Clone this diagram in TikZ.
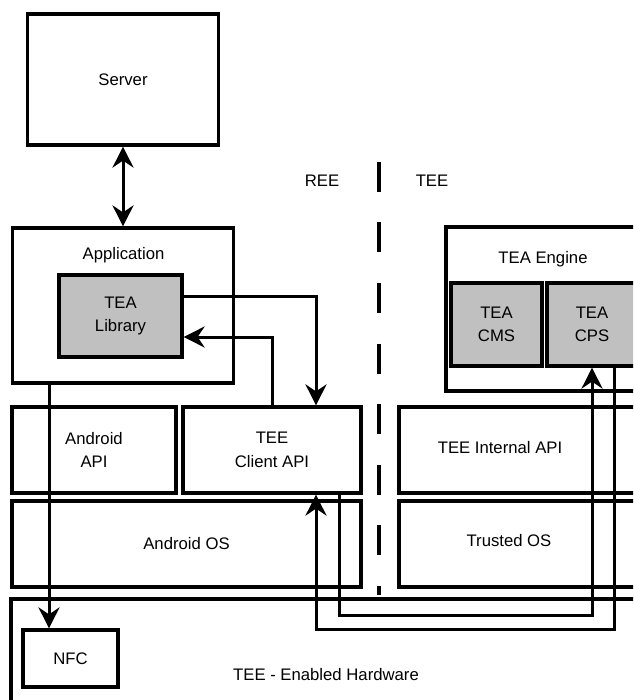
\documentclass[tikz,border=0pt]{standalone}
\usepackage{fontspec}
\setmainfont{Liberation Sans}
\usetikzlibrary{arrows.meta}
\definecolor{libgray}{RGB}{192,192,192}

\begin{document}
\begin{tikzpicture}[x = 1pt, y = -1pt,
        box/.style = {draw, black, line width = 3.2pt, inner sep = 0pt, align = center, font = \fontsize{16.7}{23.5}\selectfont},
        shaded/.style = {box, fill = libgray},
        lbl/.style = {inner sep = 0pt, font = \fontsize{16.7}{23.5}\selectfont},
        link/.style = {line width = 3pt, >={Stealth[length = 21pt, width = 21pt, inset = 7pt]}}]

    \clip (0, 0) rectangle (633, 700);

    \node[box, minimum width = 191pt, minimum height = 131pt] (server) at (123, 79.5) {Server};

    \node[box, minimum width = 221pt, minimum height = 155pt] (app) at (123, 305.5) {};
    \node[lbl] (apptitle) at (123.5, 255) {Application};
    \node[shaded, minimum width = 123pt, minimum height = 82pt] (lib) at (120.5, 316) {TEA\\Library};

    \node[box, minimum width = 200pt, minimum height = 164pt] (engine) at (546, 309) {};
    \node[lbl] (enginetitle) at (543, 259) {TEA Engine};
    \node[shaded, minimum width = 91pt, minimum height = 83pt] (cms) at (496.5, 324.5) {TEA\\CMS};
    \node[shaded, minimum width = 90pt, minimum height = 83pt] (cps) at (592, 324.5) {TEA\\CPS};

    \node[box, minimum width = 164pt, minimum height = 86pt] (andapi) at (94, 450) {Android\\API};
    \node[box, minimum width = 178pt, minimum height = 86pt] (client) at (272, 450) {TEE\\Client API};
    \node[box, minimum width = 250pt, minimum height = 86pt] (intapi) at (524, 450) {};
    \node[lbl] (intapitext) at (500, 448) {TEE Internal API};

    \node[box, minimum width = 349pt, minimum height = 86pt] (andos) at (186.5, 544) {Android OS};
    \node[box, minimum width = 250pt, minimum height = 86pt] (trustos) at (524, 544) {};
    \node[lbl] (trustostext) at (509, 541) {Trusted OS};

    \node[box, minimum width = 660pt, minimum height = 130pt] (hw) at (341, 664) {};
    \node[lbl] (hwtext) at (326, 675) {TEE - Enabled Hardware};
    \node[box, minimum width = 95pt, minimum height = 57pt] (nfc) at (70.5, 658.5) {NFC};

    \node[lbl] (ree) at (322, 181) {REE};
    \node[lbl] (tee) at (432, 181) {TEE};
    \coordinate (divtop) at (379, 162);
    \coordinate (divbot) at (379, 595);
    \draw[line width = 3.2pt, dash pattern = on 30pt off 30.5pt] (divtop) -- (divbot);

    \draw[link, <->] (server.south) -- (app.north);

    \draw[link, ->] ([yshift = 20pt]lib.east) -| ([xshift = 44pt]client.north);
    \draw[link, ->] (client.north) |- ([yshift = -21pt]lib.east);

    \coordinate (nfcin) at ([xshift = -21.5pt]nfc.north);
    \draw[link, ->] (app.south -| nfcin) -- (nfcin);

    \coordinate (clientout) at ([xshift = 67pt]client.south);
    \coordinate (clientin) at ([xshift = 44pt]client.south);
    \coordinate (cpsout) at ([xshift = 22pt]cps.south);
    \coordinate (loopin) at (0, 615);
    \coordinate (loopout) at (0, 629);
    \draw[link, ->] (clientout) |- (loopin -| cps.south) -- (cps.south);
    \draw[link, ->] (cpsout) |- (loopout -| clientin) -- (clientin);

\end{tikzpicture}
\end{document}
